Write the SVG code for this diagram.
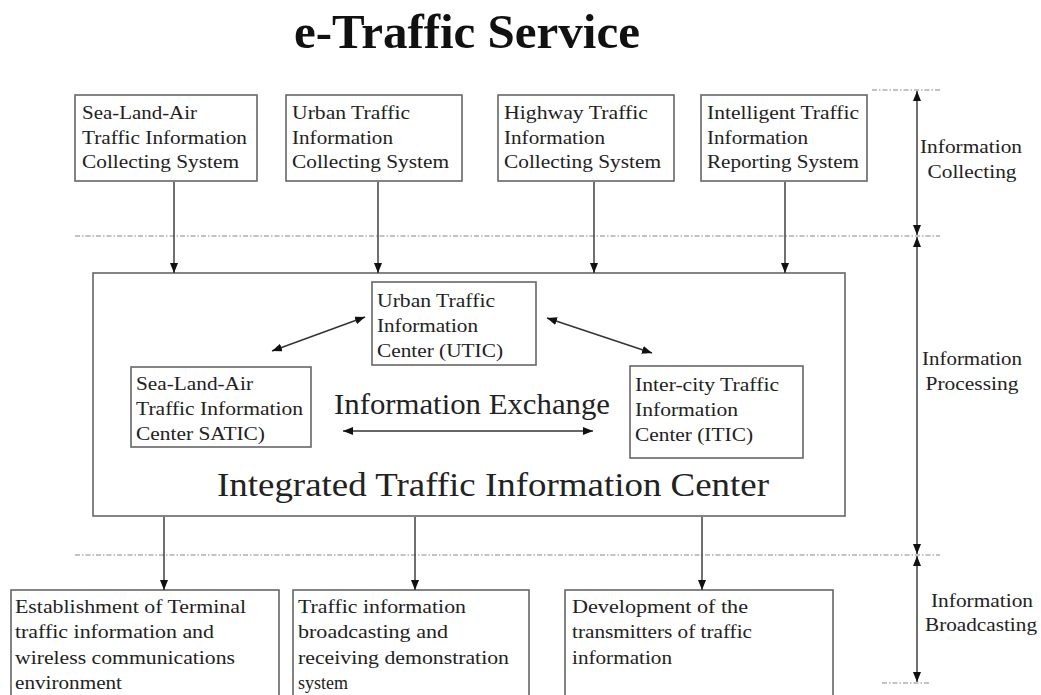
<svg xmlns="http://www.w3.org/2000/svg" width="1041" height="695" viewBox="0 0 1041 695">
<style>
.box{fill:#fff;stroke:#666;stroke-width:1.6}
.t{font-family:"Liberation Serif","Times New Roman",serif;font-size:18px;fill:#222}
.lbl{font-family:"Liberation Serif","Times New Roman",serif;font-size:18px;fill:#222;text-anchor:middle}
.con{stroke:#333;stroke-width:1.4;fill:none}
.dd{stroke:#888;stroke-width:1.2;stroke-dasharray:5 2 1.5 2;fill:none}
</style>
<defs>
<marker id="ah" viewBox="0 0 10 8" refX="10" refY="4" markerWidth="10" markerHeight="8" markerUnits="userSpaceOnUse" orient="auto-start-reverse">
<path d="M0,0 L10,4 L0,8 z" fill="#111"/>
</marker>
</defs>
<rect width="1041" height="695" fill="#fff"/>
<text x="467" y="48" text-anchor="middle" font-family="'Liberation Serif','Times New Roman',serif" font-size="49" font-weight="bold" fill="#111">e-Traffic Service</text>

<g id="dashes">
<line class="dd" x1="872" y1="90" x2="940" y2="90"/>
<line class="dd" x1="75" y1="236" x2="940" y2="236"/>
<line class="dd" x1="75" y1="555" x2="940" y2="555"/>
<line class="dd" x1="882" y1="683" x2="930" y2="683"/>
</g>

<g id="box-sla-collect">
<rect class="box" x="75" y="95" width="182" height="86"/>
<text class="t" x="82" y="119" textLength="115" lengthAdjust="spacingAndGlyphs">Sea-Land-Air</text>
<text class="t" x="82" y="144" textLength="165" lengthAdjust="spacingAndGlyphs">Traffic Information</text>
<text class="t" x="82" y="168" textLength="157" lengthAdjust="spacingAndGlyphs">Collecting System</text>
</g>
<g id="box-urban-collect">
<rect class="box" x="286" y="95" width="176" height="86"/>
<text class="t" x="292" y="119" textLength="118" lengthAdjust="spacingAndGlyphs">Urban Traffic</text>
<text class="t" x="292" y="144" textLength="101" lengthAdjust="spacingAndGlyphs">Information</text>
<text class="t" x="292" y="168" textLength="157" lengthAdjust="spacingAndGlyphs">Collecting System</text>
</g>
<g id="box-highway-collect">
<rect class="box" x="498" y="95" width="176" height="86"/>
<text class="t" x="504" y="119" textLength="144" lengthAdjust="spacingAndGlyphs">Highway Traffic</text>
<text class="t" x="504" y="144" textLength="101" lengthAdjust="spacingAndGlyphs">Information</text>
<text class="t" x="504" y="168" textLength="157" lengthAdjust="spacingAndGlyphs">Collecting System</text>
</g>
<g id="box-intelligent-report">
<rect class="box" x="701" y="95" width="166" height="86"/>
<text class="t" x="707" y="119" textLength="152" lengthAdjust="spacingAndGlyphs">Intelligent Traffic</text>
<text class="t" x="707" y="144" textLength="101" lengthAdjust="spacingAndGlyphs">Information</text>
<text class="t" x="707" y="168" textLength="152" lengthAdjust="spacingAndGlyphs">Reporting System</text>
</g>

<g id="itic-center">
<rect class="box" x="93" y="273" width="752" height="243"/>
<text x="472" y="414" text-anchor="middle" font-family="'Liberation Serif','Times New Roman',serif" font-size="29" fill="#222" textLength="276" lengthAdjust="spacingAndGlyphs">Information Exchange</text>
<text x="493" y="496" text-anchor="middle" font-family="'Liberation Serif','Times New Roman',serif" font-size="34" fill="#222" textLength="552" lengthAdjust="spacingAndGlyphs">Integrated Traffic Information Center</text>
</g>
<g id="box-utic">
<rect class="box" x="372" y="282" width="164" height="83"/>
<text class="t" x="377" y="307" textLength="118" lengthAdjust="spacingAndGlyphs">Urban Traffic</text>
<text class="t" x="377" y="332" textLength="101" lengthAdjust="spacingAndGlyphs">Information</text>
<text class="t" x="377" y="357" textLength="126" lengthAdjust="spacingAndGlyphs">Center (UTIC)</text>
</g>
<g id="box-satic">
<rect class="box" x="131" y="367" width="180" height="80"/>
<text class="t" x="136" y="390" textLength="117" lengthAdjust="spacingAndGlyphs">Sea-Land-Air</text>
<text class="t" x="136" y="415" textLength="167" lengthAdjust="spacingAndGlyphs">Traffic Information</text>
<text class="t" x="136" y="440" textLength="129" lengthAdjust="spacingAndGlyphs">Center SATIC)</text>
</g>
<g id="box-itic">
<rect class="box" x="630" y="366" width="173" height="92"/>
<text class="t" x="635" y="391" textLength="144" lengthAdjust="spacingAndGlyphs">Inter-city Traffic</text>
<text class="t" x="635" y="416" textLength="103" lengthAdjust="spacingAndGlyphs">Information</text>
<text class="t" x="635" y="441" textLength="118" lengthAdjust="spacingAndGlyphs">Center (ITIC)</text>
</g>

<g id="box-terminal">
<rect class="box" x="11" y="590" width="268" height="120"/>
<text class="t" x="15" y="613" textLength="231" lengthAdjust="spacingAndGlyphs">Establishment of Terminal</text>
<text class="t" x="15" y="638" textLength="199" lengthAdjust="spacingAndGlyphs">traffic information and</text>
<text class="t" x="15" y="664" textLength="220" lengthAdjust="spacingAndGlyphs">wireless communications</text>
<text class="t" x="15" y="689" textLength="107" lengthAdjust="spacingAndGlyphs">environment</text>
</g>
<g id="box-broadcast-demo">
<rect class="box" x="293" y="590" width="236" height="120"/>
<text class="t" x="298" y="613" textLength="168" lengthAdjust="spacingAndGlyphs">Traffic information</text>
<text class="t" x="298" y="638" textLength="150" lengthAdjust="spacingAndGlyphs">broadcasting and</text>
<text class="t" x="298" y="664" textLength="211" lengthAdjust="spacingAndGlyphs">receiving demonstration</text>
<text class="t" x="298" y="689" textLength="50" lengthAdjust="spacingAndGlyphs">system</text>
</g>
<g id="box-transmitters">
<rect class="box" x="565" y="590" width="268" height="120"/>
<text class="t" x="572" y="613" textLength="176" lengthAdjust="spacingAndGlyphs">Development of  the</text>
<text class="t" x="572" y="638" textLength="180" lengthAdjust="spacingAndGlyphs">transmitters of traffic</text>
<text class="t" x="572" y="664" textLength="100" lengthAdjust="spacingAndGlyphs">information</text>
</g>

<g id="phase-labels">
<text class="lbl" x="971" y="153" textLength="102" lengthAdjust="spacingAndGlyphs">Information</text>
<text class="lbl" x="972" y="178" textLength="89" lengthAdjust="spacingAndGlyphs">Collecting</text>
<text class="lbl" x="972" y="365" textLength="100" lengthAdjust="spacingAndGlyphs">Information</text>
<text class="lbl" x="972" y="390" textLength="93" lengthAdjust="spacingAndGlyphs">Processing</text>
<text class="lbl" x="982" y="607" textLength="102" lengthAdjust="spacingAndGlyphs">Information</text>
<text class="lbl" x="981" y="631" textLength="112" lengthAdjust="spacingAndGlyphs">Broadcasting</text>
</g>

<g id="connectors">
<line class="con" x1="174" y1="182" x2="174" y2="273" marker-end="url(#ah)"/>
<line class="con" x1="378" y1="182" x2="378" y2="273" marker-end="url(#ah)"/>
<line class="con" x1="594" y1="182" x2="594" y2="273" marker-end="url(#ah)"/>
<line class="con" x1="785" y1="182" x2="785" y2="273" marker-end="url(#ah)"/>
<line class="con" x1="365" y1="317" x2="272" y2="351" marker-start="url(#ah)" marker-end="url(#ah)"/>
<line class="con" x1="547" y1="318" x2="652" y2="353" marker-start="url(#ah)" marker-end="url(#ah)"/>
<line class="con" x1="343" y1="431" x2="593" y2="431" marker-start="url(#ah)" marker-end="url(#ah)"/>
<line class="con" x1="164" y1="517" x2="164" y2="590" marker-end="url(#ah)"/>
<line class="con" x1="415" y1="517" x2="415" y2="590" marker-end="url(#ah)"/>
<line class="con" x1="702" y1="517" x2="702" y2="590" marker-end="url(#ah)"/>
<line class="con" x1="917" y1="91" x2="917" y2="235" marker-start="url(#ah)" marker-end="url(#ah)"/>
<line class="con" x1="917" y1="237" x2="917" y2="554" marker-start="url(#ah)" marker-end="url(#ah)"/>
<line class="con" x1="917" y1="556" x2="917" y2="682" marker-start="url(#ah)" marker-end="url(#ah)"/>
</g>
</svg>
